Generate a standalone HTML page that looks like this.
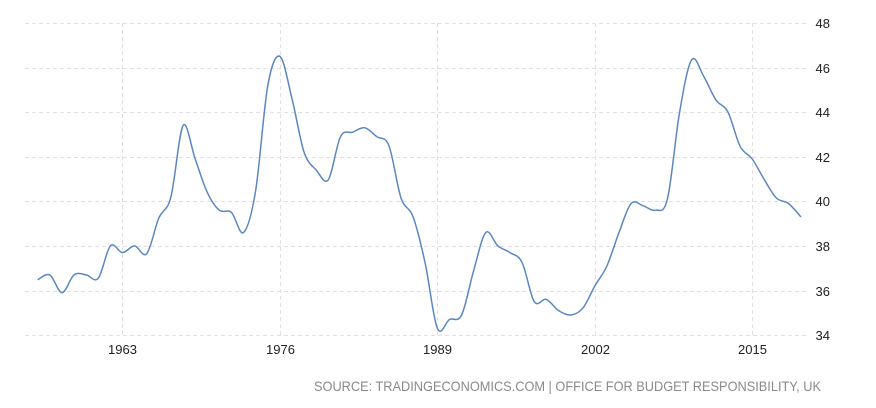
<!DOCTYPE html>
<html><head><meta charset="utf-8"><style>
html,body{margin:0;padding:0;background:#fff;}
svg{display:block;font-family:"Liberation Sans",sans-serif;}
</style></head><body>
<svg id="s" width="876" height="408" viewBox="0 0 876 408">
<g stroke="#e0e0e0" stroke-width="1" stroke-dasharray="4,3" fill="none">
<line x1="25" y1="23.5" x2="806" y2="23.5"/>
<line x1="25" y1="68.5" x2="806" y2="68.5"/>
<line x1="25" y1="112.5" x2="806" y2="112.5"/>
<line x1="25" y1="157.5" x2="806" y2="157.5"/>
<line x1="25" y1="201.5" x2="806" y2="201.5"/>
<line x1="25" y1="246.5" x2="806" y2="246.5"/>
<line x1="25" y1="291.5" x2="806" y2="291.5"/>
<line x1="25" y1="335.5" x2="806" y2="335.5"/>
<line x1="122.5" y1="23" x2="122.5" y2="335"/>
<line x1="280.5" y1="23" x2="280.5" y2="335"/>
<line x1="437.5" y1="23" x2="437.5" y2="335"/>
<line x1="595.5" y1="23" x2="595.5" y2="335"/>
<line x1="752.5" y1="23" x2="752.5" y2="335"/>
</g>
<g font-size="13" fill="#222" text-anchor="end">
<text x="830" y="28">48</text>
<text x="830" y="73">46</text>
<text x="830" y="117">44</text>
<text x="830" y="162">42</text>
<text x="830" y="206">40</text>
<text x="830" y="251">38</text>
<text x="830" y="296">36</text>
<text x="830" y="340">34</text>
</g>
<g font-size="13" fill="#222" text-anchor="middle">
<text x="122.5" y="354">1963</text>
<text x="280.5" y="354">1976</text>
<text x="437.5" y="354">1989</text>
<text x="595.5" y="354">2002</text>
<text x="752.5" y="354">2015</text>
</g>
<text x="821" y="391" font-size="14" fill="#8a8a8a" text-anchor="end" textLength="507" lengthAdjust="spacingAndGlyphs">SOURCE: TRADINGECONOMICS.COM | OFFICE FOR BUDGET RESPONSIBILITY, UK</text>
<path id="p" fill="none" stroke="#5b87c0" stroke-width="1.5"/>
</svg>
<script>
var v=[36.48,36.7,35.9,36.7,36.7,36.55,38.0,37.7,38.0,37.65,39.25,40.2,43.4,41.9,40.4,39.6,39.5,38.6,40.5,45.2,46.5,44.6,42.2,41.4,40.97,42.9,43.1,43.3,42.9,42.5,40.15,39.3,37.2,34.3,34.7,34.9,36.9,38.6,38.0,37.7,37.25,35.5,35.6,35.1,34.9,35.2,36.2,37.1,38.6,39.9,39.8,39.6,40.1,44.0,46.35,45.6,44.55,44.0,42.47,41.9,40.97,40.15,39.9,39.3];
var pts=v.map(function(val,i){var yr=1956+i;var x=122.5+(yr-1963)*12.11;if(i==v.length-1)x=801;return [x,23+(48-val)*22.29];});
var d="M"+pts[0][0].toFixed(1)+","+pts[0][1].toFixed(1);
for(var i=0;i<pts.length-1;i++){var p0=pts[i-1]||pts[i],p1=pts[i],p2=pts[i+1],p3=pts[i+2]||p2;var t=6;
var c1=[p1[0]+(p2[0]-p0[0])/t,p1[1]+(p2[1]-p0[1])/t],c2=[p2[0]-(p3[0]-p1[0])/t,p2[1]-(p3[1]-p1[1])/t];
d+=" C"+c1.map(function(n){return n.toFixed(1)}).join(",")+" "+c2.map(function(n){return n.toFixed(1)}).join(",")+" "+p2[0].toFixed(1)+","+p2[1].toFixed(1);}
document.getElementById("p").setAttribute("d",d);
</script>
</body></html>
